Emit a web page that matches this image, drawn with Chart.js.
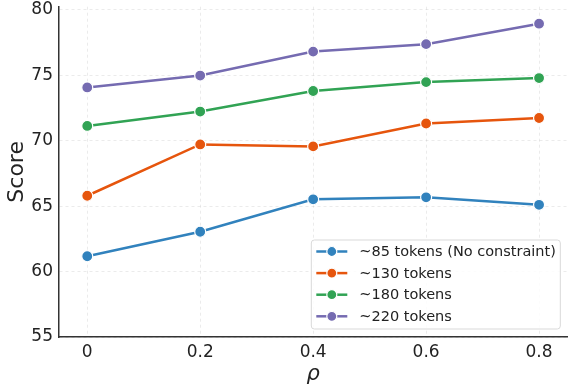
<!doctype html>
<html lang="en">
  <head>
    <meta charset="UTF-8" />
    <title>Score vs rho</title>
    <style>
      html, body { margin: 0; padding: 0; background: #fff; }
      #wrap { width: 574px; height: 391px; }
    </style>
  </head>

  <body>
    <div id="wrap"><canvas id="chart"></canvas></div>

    <script src="https://cdn.jsdelivr.net/npm/chart.js@4"></script>

    <script>
      const rhoValues = [0, 0.2, 0.4, 0.6, 0.8]
      const seriesLabels = ['~85 tokens (No constraint)', '~130 tokens', '~180 tokens', '~220 tokens']
      const tokens85 = [61.17, 63.04, 65.52, 65.67, 65.1]
      const tokens130 = [65.79, 69.71, 69.56, 71.31, 71.73]
      const tokens180 = [71.12, 72.22, 73.79, 74.47, 74.78]
      const tokens220 = [74.06, 74.97, 76.8, 77.37, 78.93]
      const yTicks = [55, 60, 65, 70, 75, 80]

      const COLORS = ['#3182bd', '#e6550d', '#31a354', '#756bb1']
      const FONT = 'DejaVu Sans'

      const datasets = [tokens85, tokens130, tokens180, tokens220].map((vals, idx) => ({
        label: seriesLabels[idx],
        data: vals.map((v, i) => ({ x: rhoValues[i], y: v })),
        borderColor: COLORS[idx],
        backgroundColor: COLORS[idx],
        borderWidth: 2.5,
        pointRadius: 5.5,
        pointBorderWidth: 1.2,
        pointBorderColor: '#fff',
        pointBackgroundColor: COLORS[idx],
        tension: 0,
      }))

      // legend box drawn inside the plot, lower right
      const insideLegend = {
        id: 'insideLegend',
        afterDraw(chart) {
          const { ctx, chartArea } = chart
          const w = 249
          const h = 89
          const x0 = chartArea.right - w - 7
          const y0 = chartArea.bottom - h - 8
          ctx.save()
          ctx.beginPath()
          ctx.roundRect(x0, y0, w, h, 3)
          ctx.fillStyle = 'rgba(255,255,255,0.85)'
          ctx.fill()
          ctx.strokeStyle = '#d9d9d9'
          ctx.lineWidth = 1
          ctx.stroke()
          ctx.font = `14.5px "${FONT}"`
          ctx.textBaseline = 'middle'
          chart.data.datasets.forEach((ds, i) => {
            const cy = y0 + 11.5 + i * 21.6
            ctx.strokeStyle = ds.borderColor
            ctx.lineWidth = 2.5
            ctx.beginPath()
            ctx.moveTo(x0 + 5, cy)
            ctx.lineTo(x0 + 36, cy)
            ctx.stroke()
            ctx.beginPath()
            ctx.arc(x0 + 20.5, cy, 5, 0, Math.PI * 2)
            ctx.fillStyle = ds.borderColor
            ctx.fill()
            ctx.strokeStyle = '#fff'
            ctx.lineWidth = 1.2
            ctx.stroke()
            ctx.fillStyle = '#222'
            ctx.fillText(ds.label, x0 + 48, cy + 1)
          })
          ctx.restore()
        },
      }

      new Chart(document.getElementById('chart'), {
        type: 'line',
        data: { datasets },
        plugins: [insideLegend],
        options: {
          responsive: true,
          maintainAspectRatio: false,
          animation: false,
          layout: { padding: { top: 0, right: 6, left: 0, bottom: 0 } },
          plugins: {
            legend: { display: false },
            tooltip: { enabled: false },
          },
          scales: {
            x: {
              type: 'linear',
              min: -0.05,
              max: 0.85,
              afterBuildTicks: (axis) => {
                axis.ticks = rhoValues.map((v) => ({ value: v }))
              },
              afterFit: (axis) => {
                axis.height = 54
              },
              ticks: {
                color: '#222',
                font: { family: FONT, size: 17 },
                padding: 5,
                maxRotation: 0,
                callback: (v) => String(v),
              },
              grid: {
                color: 'rgba(0,0,0,0.08)',
                drawTicks: false,
              },
              border: { color: '#333', width: 1.5, dash: [3, 3] },
              title: {
                display: true,
                text: 'ρ',
                color: '#222',
                font: { family: FONT, size: 21, style: 'italic' },
                padding: { top: 0 },
              },
            },
            y: {
              type: 'linear',
              min: 55,
              max: 80.23,
              afterBuildTicks: (axis) => {
                axis.ticks = yTicks.map((v) => ({ value: v }))
              },
              afterFit: (axis) => {
                axis.width = 59
                // let the plot run to the top edge like the original
                axis.paddingTop = 0
              },
              ticks: {
                color: '#222',
                font: { family: FONT, size: 17 },
                padding: 6,
              },
              grid: {
                color: 'rgba(0,0,0,0.08)',
                drawTicks: false,
              },
              border: { color: '#333', width: 1.5, dash: [3, 3] },
              title: {
                display: true,
                text: 'Score',
                color: '#222',
                font: { family: FONT, size: 22 },
                padding: { top: 4, bottom: 0 },
              },
            },
          },
        },
      })
    </script>
  </body>
</html>
